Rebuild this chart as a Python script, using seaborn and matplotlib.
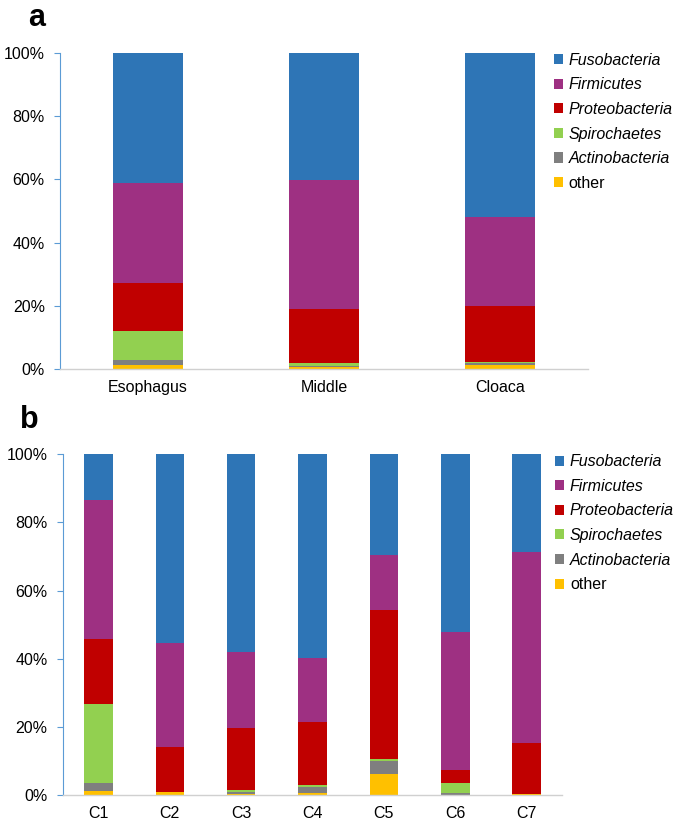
import matplotlib
matplotlib.use("Agg")
import matplotlib.pyplot as plt
from matplotlib.patches import Patch
import numpy as np
import pandas as pd
import seaborn as sns

# taxa, bottom to top in the stack
taxa = ["other", "Actinobacteria", "Spirochaetes", "Proteobacteria", "Firmicutes", "Fusobacteria"]
colors = {"Fusobacteria": "#2E75B6", "Firmicutes": "#9E3082", "Proteobacteria": "#C00000",
          "Spirochaetes": "#92D050", "Actinobacteria": "#7F7F7F", "other": "#FFC000"}

# panel a: gut sites
sites = ["Esophagus", "Middle", "Cloaca"]
site_other = [1.2, 0.6, 1.2]
site_actino = [1.7, 0.3, 0.7]
site_spiro = [9.3, 1.0, 0.4]
site_proteo = [15.1, 17.2, 17.7]
site_firm = [31.7, 40.8, 28.0]
site_fuso = [41.0, 40.1, 52.0]

# panel b: individuals
samples = ["C1", "C2", "C3", "C4", "C5", "C6", "C7"]
samp_other = [1.3, 0.8, 0.4, 0.5, 6.2, 0.0, 0.2]
samp_actino = [2.1, 0.0, 0.6, 1.9, 3.9, 0.5, 0.1]
samp_spiro = [23.4, 0.0, 0.5, 0.5, 0.4, 3.1, 0.1]
samp_proteo = [19.1, 13.4, 18.1, 18.5, 43.8, 3.7, 14.9]
samp_firm = [40.8, 30.3, 22.3, 18.7, 16.1, 40.5, 55.9]
samp_fuso = [13.3, 55.5, 58.1, 59.9, 29.6, 52.2, 28.8]

plt.rcParams["font.family"] = ["Liberation Sans", "DejaVu Sans"]


def stacked(ax, cats, series, leg_anchor):
    df = pd.DataFrame(series, index=taxa, columns=cats).T
    cum = df.cumsum(axis=1)
    # draw tallest cumulative first so lower segments sit on top
    for t in taxa[::-1]:
        d = pd.DataFrame({"cat": cats, "val": cum[t].values})
        sns.barplot(data=d, x="cat", y="val", color=colors[t], width=0.4,
                    saturation=1, linewidth=0, ax=ax, order=cats)
    ax.set_ylim(0, 100)
    ax.set_yticks(range(0, 101, 20))
    ax.set_yticklabels([f"{v}%" for v in range(0, 101, 20)])
    ax.set_xlabel("")
    ax.set_ylabel("")
    for s in ["top", "right"]:
        ax.spines[s].set_visible(False)
    ax.spines["left"].set_color("#5B9BD5")
    ax.spines["left"].set_linewidth(0.8)
    ax.spines["bottom"].set_color("#D0D0D0")
    ax.spines["bottom"].set_linewidth(1.0)
    ax.tick_params(axis="y", length=4, color="#5B9BD5", labelsize=11.5, pad=7)
    ax.tick_params(axis="x", length=0, labelsize=11.5, pad=8)
    handles = [Patch(facecolor=colors[t], edgecolor="none") for t in taxa[::-1]]
    leg = ax.legend(handles, taxa[::-1], loc="upper left", bbox_to_anchor=leg_anchor,
                    frameon=False, fontsize=11.5, handlelength=0.6, handleheight=0.6,
                    handletextpad=0.35, labelspacing=0.6, borderaxespad=0.0,
                    borderpad=0.0)
    for txt in leg.get_texts():
        if txt.get_text() != "other":
            txt.set_style("italic")


fig = plt.figure(figsize=(6.75, 8.26), dpi=100)
ax1 = fig.add_axes([0.089, 0.553, 0.782, 0.383])
ax2 = fig.add_axes([0.093, 0.0375, 0.740, 0.4125])

stacked(ax1, sites, [site_other, site_actino, site_spiro, site_proteo, site_firm, site_fuso],
        (0.935, 1.0))
stacked(ax2, samples, [samp_other, samp_actino, samp_spiro, samp_proteo, samp_firm, samp_fuso],
        (0.985, 1.0))

fig.text(0.042, 0.978, "a", fontsize=22, fontweight="bold", va="center")
fig.text(0.03, 0.491, "b", fontsize=22, fontweight="bold", va="center")

fig.savefig("out.png", dpi=100)
